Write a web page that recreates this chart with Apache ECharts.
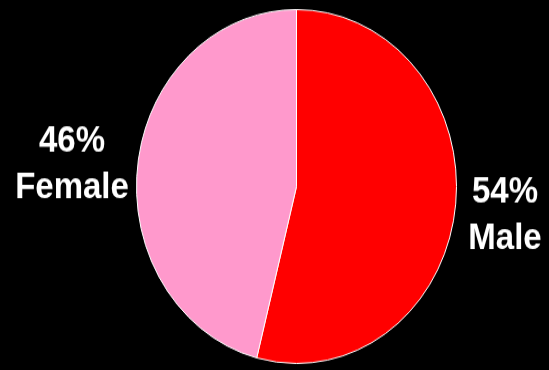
<!DOCTYPE html>
<html>
<head>
<meta charset="utf-8">
<script src="https://cdn.jsdelivr.net/npm/echarts@6/dist/echarts.min.js"></script>
<style>
  html, body { margin: 0; padding: 0; background: #000; }
  #wrap { position: relative; width: 549px; height: 370px; overflow: hidden; background: #000; }
  /* the whole picture is stretched vertically (pie is an ellipse, text is tall) */
  #chart { position: absolute; left: 0; top: 0; width: 549px; height: 370px;
           transform: scaleY(1.106); transform-origin: 296.5px 186.5px; }
</style>
</head>
<body>
<div id="wrap">
  <div id="chart"></div>
</div>
<script>
// data
var categories = ["Male", "Female"];
var shares = [54, 46];
var colors = ["#FF0000", "#FF99CC"];

// label centres in the unstretched layer
var labelPos = { Male: [505, 213], Female: [72, 167] };

var myChart = echarts.init(document.getElementById("chart"));
myChart.setOption({
  backgroundColor: "transparent",
  animation: false,
  graphic: categories.map(function (c, i) {
    return {
      type: "text",
      x: labelPos[c][0],
      y: labelPos[c][1],
      style: {
        text: shares[i] + "%\n" + c,
        fill: "#fff",
        font: "bold 33px 'Liberation Sans', Arial, sans-serif",
        lineHeight: 42,
        align: "center",
        verticalAlign: "middle"
      }
    };
  }),
  series: [
    {
      type: "pie",
      center: [296.5, 186.5],
      radius: 160,
      startAngle: 90,
      clockwise: true,
      label: { show: false },
      labelLine: { show: false },
      itemStyle: { borderColor: "#fff", borderWidth: 1 },
      data: categories.map(function (c, i) {
        return { name: c, value: shares[i], itemStyle: { color: colors[i] } };
      })
    }
  ]
});
</script>
</body>
</html>
